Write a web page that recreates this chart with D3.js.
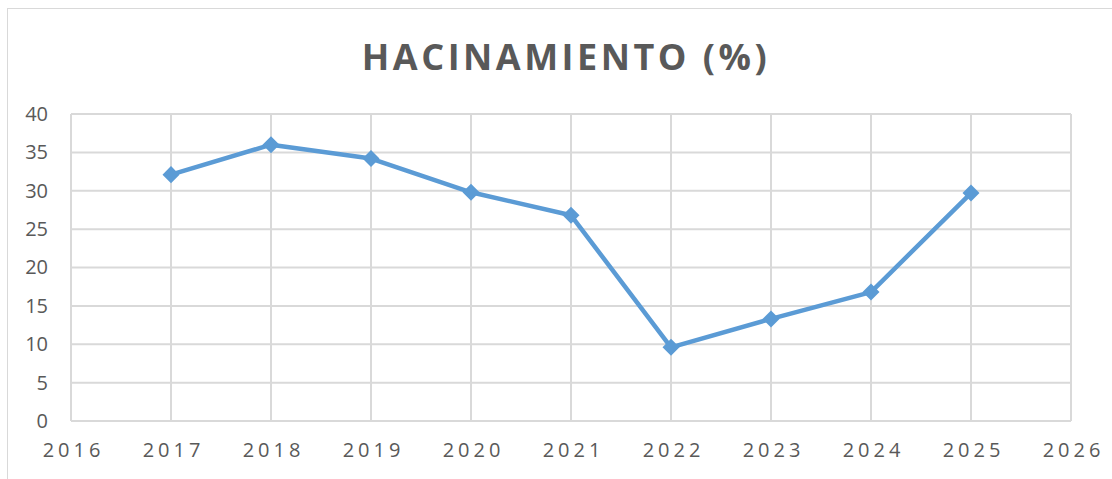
<!DOCTYPE html>
<html><head><meta charset="utf-8">
<script src="https://cdn.jsdelivr.net/npm/d3@7"></script>
<style>
html,body{margin:0;padding:0;background:#fff;}
svg{display:block;}
</style></head>
<body>
<svg id="chart" width="1112" height="479"></svg>
<script>
const title = "HACINAMIENTO (%)";
const years = [2017, 2018, 2019, 2020, 2021, 2022, 2023, 2024, 2025];
const values = [32.1, 36.0, 34.2, 29.8, 26.8, 9.6, 13.3, 16.8, 29.7];
const xTicks = [2016, 2017, 2018, 2019, 2020, 2021, 2022, 2023, 2024, 2025, 2026];
const yTicks = [0, 5, 10, 15, 20, 25, 30, 35, 40];

const svg = d3.select("#chart");
const plot = {left: 71, right: 1071, top: 114, bottom: 421};

// outer chart frame
svg.append("rect").attr("x", 7.5).attr("y", 8.5).attr("width", 1130).attr("height", 500)
  .attr("fill", "#fff").attr("stroke", "#d9d9d9").attr("stroke-width", 1);

const x = d3.scaleLinear().domain([2016, 2026]).range([plot.left, plot.right]);
const y = d3.scaleLinear().domain([0, 40]).range([plot.bottom, plot.top]);

// gridlines
const grid = svg.append("g").attr("stroke", "#d9d9d9").attr("stroke-width", 2);
grid.selectAll("line.h").data(yTicks).join("line")
  .attr("x1", plot.left).attr("x2", plot.right)
  .attr("y1", d => y(d)).attr("y2", d => y(d));
grid.selectAll("line.v").data(xTicks).join("line")
  .attr("y1", plot.top).attr("y2", plot.bottom)
  .attr("x1", d => x(d)).attr("x2", d => x(d));

const font = "'Open Sans', 'Liberation Sans', sans-serif";

// axes (labels only)
const yAxis = svg.append("g").attr("transform", `translate(${plot.left - 23},0)`)
  .call(d3.axisLeft(y).tickValues(yTicks).tickSize(0).tickPadding(0));
yAxis.select(".domain").remove();
yAxis.selectAll("text").attr("fill", "#595959").attr("font-size", 20)
  .attr("font-family", font);

const xAxis = svg.append("g").attr("transform", `translate(0,${plot.bottom + 22})`)
  .call(d3.axisBottom(x).tickValues(xTicks).tickFormat(d3.format("d")).tickSize(0).tickPadding(0));
xAxis.select(".domain").remove();
xAxis.selectAll("text").attr("fill", "#595959").attr("font-size", 20)
  .attr("letter-spacing", "4px")
  .attr("dx", "2px")
  .attr("font-family", font);

// line
const line = d3.line().x((d, i) => x(years[i])).y(d => y(d));
svg.append("path").datum(values).attr("d", line)
  .attr("fill", "none").attr("stroke", "#5b9bd5").attr("stroke-width", 4.5)
  .attr("stroke-linejoin", "round").attr("stroke-linecap", "round");

// markers
svg.append("g").selectAll("path").data(values).join("path")
  .attr("d", d3.symbol(d3.symbolDiamond2, 185)())
  .attr("transform", (d, i) => `translate(${x(years[i])},${y(d)})`)
  .attr("fill", "#5b9bd5");

// title
svg.append("text").attr("x", 566).attr("y", 70).attr("text-anchor", "middle")
  .attr("fill", "#595959").attr("font-size", 36).attr("font-weight", "bold")
  .attr("letter-spacing", "3.5px")
  .attr("font-family", font)
  .text(title);
</script>
</body></html>
